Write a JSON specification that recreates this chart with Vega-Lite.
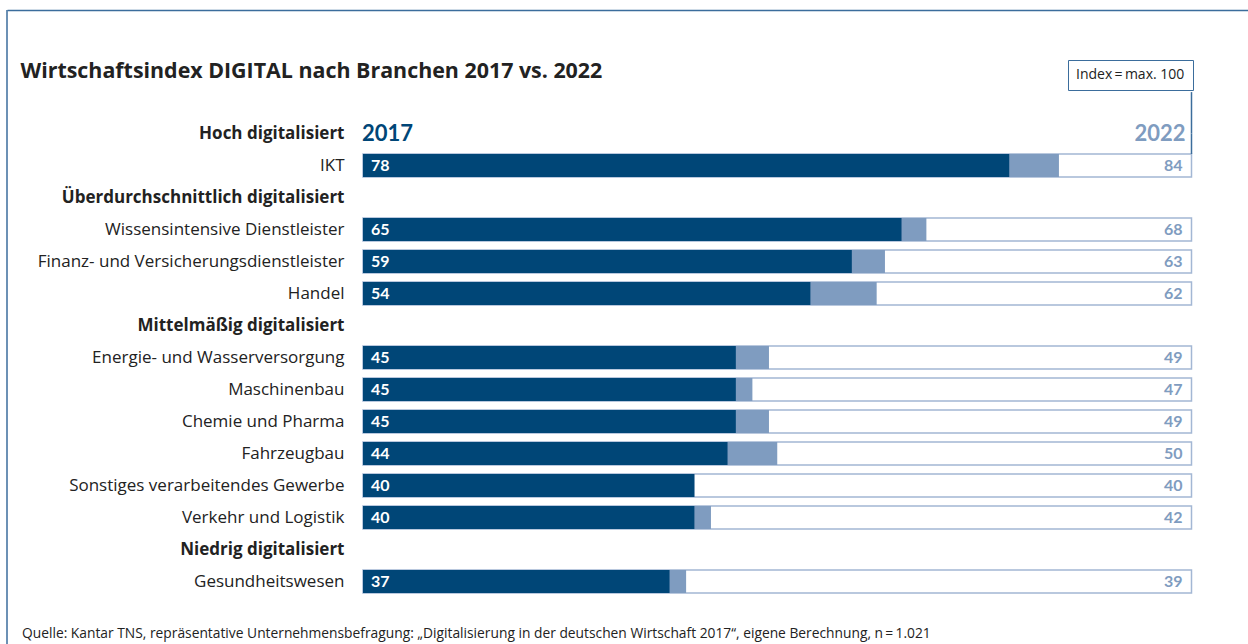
{
  "$schema": "https://vega.github.io/schema/vega-lite/v6.json",
  "autosize": {"type": "none"},
  "padding": {"left": 7, "top": 10, "right": 0, "bottom": 0},
  "width": 1241,
  "height": 634,
  "background": "white",
  "config": {"view": {"stroke": null}, "font": "Open Sans"},
  "title": {
    "text": "Quelle: Kantar TNS, repräsentative Unternehmensbefragung: „Digitalisierung in der deutschen Wirtschaft 2017“, eigene Berechnung, n\u2009=\u20091.021",
    "orient": "bottom",
    "anchor": "start",
    "frame": "group",
    "offset": -7,
    "baseline": "alphabetic",
    "dx": 15,
    "font": "Open Sans",
    "fontSize": 13.8,
    "fontWeight": "normal",
    "color": "#222222"
  },
  "datasets": {
    "rows": [
      {"label": "Hoch digitalisiert", "header": true},
      {"label": "IKT", "v2017": 78, "v2022": 84},
      {"label": "Überdurchschnittlich digitalisiert", "header": true},
      {"label": "Wissensintensive Dienstleister", "v2017": 65, "v2022": 68},
      {"label": "Finanz- und Versicherungsdienstleister", "v2017": 59, "v2022": 63},
      {"label": "Handel", "v2017": 54, "v2022": 62},
      {"label": "Mittelmäßig digitalisiert", "header": true},
      {"label": "Energie- und Wasserversorgung", "v2017": 45, "v2022": 49},
      {"label": "Maschinenbau", "v2017": 45, "v2022": 47},
      {"label": "Chemie und Pharma", "v2017": 45, "v2022": 49},
      {"label": "Fahrzeugbau", "v2017": 44, "v2022": 50},
      {"label": "Sonstiges verarbeitendes Gewerbe", "v2017": 40, "v2022": 40},
      {"label": "Verkehr und Logistik", "v2017": 40, "v2022": 42},
      {"label": "Niedrig digitalisiert", "header": true},
      {"label": "Gesundheitswesen", "v2017": 37, "v2022": 39}
    ]
  },
  "data": {"name": "rows"},
  "layer": [
    {
      "transform": [{"filter": "datum.v2017 != null"}],
      "mark": {"type": "bar", "stroke": "#a3b7d4", "strokeWidth": 1.5},
      "encoding": {
        "y": {
          "field": "label",
          "type": "nominal",
          "sort": null,
          "scale": {
            "domain": ["Hoch digitalisiert", "IKT", "Überdurchschnittlich digitalisiert", "Wissensintensive Dienstleister", "Finanz- und Versicherungsdienstleister", "Handel", "Mittelmäßig digitalisiert", "Energie- und Wasserversorgung", "Maschinenbau", "Chemie und Pharma", "Fahrzeugbau", "Sonstiges verarbeitendes Gewerbe", "Verkehr und Logistik", "Niedrig digitalisiert", "Gesundheitswesen"],
            "range": [107.5, 587.5],
            "paddingInner": 0.28125,
            "paddingOuter": 0.140625,
            "round": false
          },
          "axis": {
            "title": null,
            "orient": "left",
            "domain": false,
            "ticks": false,
            "tickSize": 0,
            "grid": false,
            "labelPadding": -337,
            "labelAlign": "right",
            "labelBaseline": "middle",
            "labelFont": "Open Sans",
            "labelFontSize": 17,
            "labelColor": "#222222",
            "labelLimit": 0,
            "labelFontWeight": {
              "condition": {"test": "indexof(['Hoch digitalisiert','Überdurchschnittlich digitalisiert','Mittelmäßig digitalisiert','Niedrig digitalisiert'], datum.value) >= 0", "value": "bold"},
              "value": "normal"
            }
          }
        },
        "x": {
          "datum": 100,
          "type": "quantitative",
          "scale": {"domain": [-42.97, 106.82], "nice": false, "zero": false},
          "axis": {
            "orient": "top",
            "labels": false,
            "ticks": false,
            "grid": false,
            "domain": true,
            "domainColor": "#3b6d9c",
            "domainWidth": 1.5,
            "title": "Wirtschaftsindex DIGITAL nach Branchen 2017 vs. 2022",
            "titleX": 13,
            "titleY": 67,
            "titleAlign": "left",
            "titleAnchor": null,
            "titleBaseline": "alphabetic",
            "titleFont": "Open Sans",
            "titleFontSize": 21.4,
            "titleFontWeight": "bold",
            "titleColor": "#222222"
          }
        },
        "x2": {"datum": 0},
        "fill": {
          "datum": "Index\u2009=\u2009max. 100",
          "type": "nominal",
          "scale": {"range": ["#ffffff"]},
          "legend": {
            "orient": "none",
            "legendX": 1061,
            "legendY": 50,
            "title": null,
            "symbolSize": 0,
            "symbolStrokeWidth": 0,
            "labelOffset": -14,
            "labelFont": "Open Sans",
            "labelFontSize": 14,
            "labelColor": "#222222",
            "strokeColor": "#3b6d9c",
            "fillColor": "#ffffff",
            "padding": 8
          }
        }
      }
    },
    {
      "transform": [{"filter": "datum.v2022 != null"}],
      "mark": {"type": "bar", "color": "#7f9cc0"},
      "encoding": {
        "y": {"field": "label", "type": "nominal", "sort": null},
        "x": {"field": "v2022", "type": "quantitative"},
        "x2": {"datum": 0}
      }
    },
    {
      "transform": [{"filter": "datum.v2017 != null"}],
      "mark": {"type": "bar", "color": "#004677"},
      "encoding": {
        "y": {"field": "label", "type": "nominal", "sort": null},
        "x": {"field": "v2017", "type": "quantitative"},
        "x2": {"datum": 0}
      }
    },
    {
      "transform": [{"filter": "datum.v2017 != null"}],
      "mark": {"type": "text", "align": "left", "baseline": "middle", "dx": 8, "font": "Lato", "fontSize": 16, "fontWeight": "bold", "color": "#ffffff"},
      "encoding": {
        "y": {"field": "label", "type": "nominal", "sort": null},
        "x": {"datum": 0, "type": "quantitative"},
        "text": {"field": "v2017", "type": "quantitative"}
      }
    },
    {
      "transform": [{"filter": "datum.v2022 != null"}],
      "mark": {"type": "text", "align": "right", "baseline": "middle", "dx": -9, "font": "Lato", "fontSize": 16, "fontWeight": "bold", "color": "#7f9cc0"},
      "encoding": {
        "y": {"field": "label", "type": "nominal", "sort": null},
        "x": {"datum": 100, "type": "quantitative"},
        "text": {"field": "v2022", "type": "quantitative"}
      }
    },
    {
      "data": {"values": [{"label": "Hoch digitalisiert", "year": "2017"}]},
      "mark": {"type": "text", "align": "left", "baseline": "middle", "dx": -1, "font": "Lato", "fontSize": 22, "fontWeight": "bold", "color": "#004677"},
      "encoding": {
        "y": {"field": "label", "type": "nominal", "sort": null},
        "x": {"datum": 0, "type": "quantitative"},
        "text": {"field": "year", "type": "nominal"}
      }
    },
    {
      "data": {"values": [{"label": "Hoch digitalisiert", "year": "2022"}]},
      "mark": {"type": "text", "align": "right", "baseline": "middle", "dx": -6, "font": "Lato", "fontSize": 22, "fontWeight": "bold", "color": "#7f9cc0"},
      "encoding": {
        "y": {"field": "label", "type": "nominal", "sort": null},
        "x": {"datum": 100, "type": "quantitative"},
        "text": {"field": "year", "type": "nominal"}
      }
    },
    {
      "data": {"values": [{"label": "Hoch digitalisiert"}]},
      "mark": {"type": "rule", "color": "#3b6d9c", "strokeWidth": 1.5},
      "encoding": {
        "x": {"datum": 100, "type": "quantitative"},
        "y": {"datum": "Hoch digitalisiert", "bandPosition": -1.3},
        "y2": {"datum": "Hoch digitalisiert"}
      }
    },
    {
      "data": {"values": [{"label": "IKT"}]},
      "mark": {"type": "rule", "color": "#3b6d9c", "strokeWidth": 1.5},
      "encoding": {
        "x": {"datum": 100, "type": "quantitative"},
        "y": {"datum": "IKT", "bandPosition": 0},
        "y2": {"datum": "Hoch digitalisiert"}
      }
    },
    {
      "data": {"values": [{"edge": -42.97}]},
      "mark": {"type": "rule", "color": "#3b6d9c", "strokeWidth": 1.5},
      "encoding": {
        "x": {"field": "edge", "type": "quantitative"}
      }
    }
  ]
}
